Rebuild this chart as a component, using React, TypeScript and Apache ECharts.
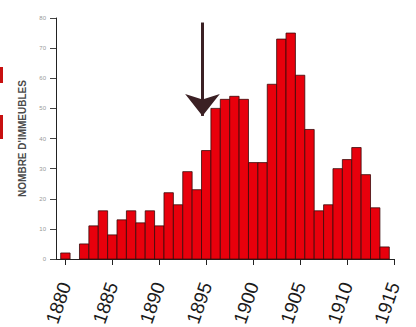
import React, { useEffect, useRef } from "react";
import * as echarts from "echarts";

const YEARS = [1880, 1881, 1882, 1883, 1884, 1885, 1886, 1887, 1888, 1889, 1890, 1891, 1892, 1893, 1894, 1895, 1896, 1897, 1898, 1899, 1900, 1901, 1902, 1903, 1904, 1905, 1906, 1907, 1908, 1909, 1910, 1911, 1912, 1913, 1914];
const COUNTS = [2, 0, 5, 11, 16, 8, 13, 16, 12, 16, 11, 22, 18, 29, 23, 36, 50, 53, 54, 53, 32, 32, 58, 73, 75, 61, 43, 16, 18, 30, 33, 37, 28, 17, 4];
const X_TICKS = [1880, 1885, 1890, 1895, 1900, 1905, 1910, 1915];
const Y_NAME = "NOMBRE D'IMMEUBLES";
const ARROW_YEAR = 1894.6;
const ARROW_FROM = 78.5;
const ARROW_TO = 47.5;

const RED = "#e8000c";
const FONT = "Liberation Sans, Arial, sans-serif";

export default function App() {
  const ref = useRef<HTMLDivElement>(null);
  useEffect(() => {
    if (!ref.current) return;
    const chart = echarts.init(ref.current, null, { renderer: "svg" });
    const data = YEARS.map((y, i) => [y, COUNTS[i]]);
    chart.setOption({
      animation: false,
      backgroundColor: "#ffffff",
      grid: { left: 56, right: 22, top: 18, bottom: 68, containLabel: false, outerBoundsMode: "none" },
      xAxis: {
        type: "value",
        min: 1879,
        max: 1915,
        splitLine: { show: false },
        axisLine: { show: true, lineStyle: { color: "#222", width: 1 } },
        axisTick: { show: true, length: 6, lineStyle: { color: "#222" }, customValues: X_TICKS },
        axisLabel: {
          customValues: X_TICKS,
          rotate: 71,
          margin: 24,
          fontSize: 19,
          color: "#1a1a1a",
          fontFamily: FONT,
          formatter: (v: number) => String(v),
        },
      },
      yAxis: {
        type: "value",
        min: 0,
        max: 80,
        interval: 10,
        name: Y_NAME,
        nameLocation: "middle",
        nameGap: 29,
        nameRotate: 90,
        nameTextStyle: { fontSize: 10, fontWeight: "bold", color: "#4a4a4a", fontFamily: FONT },
        splitLine: { show: false },
        axisLine: { show: true, lineStyle: { color: "#222", width: 1 } },
        axisTick: { show: true, length: 6, lineStyle: { color: "#444" } },
        axisLabel: { fontSize: 6, color: "#999", margin: 10, fontFamily: FONT },
      },
      graphic: [
        { type: "rect", left: 0, top: 67, shape: { width: 3, height: 16 }, style: { fill: "#c81010" } },
        { type: "rect", left: 0, top: 115, shape: { width: 3, height: 24 }, style: { fill: "#c81010" } },
      ],
      series: [
        {
          type: "custom",
          data,
          encode: { x: 0, y: 1 },
          renderItem: (params: any, api: any) => {
            const yr = api.value(0);
            const v = api.value(1);
            if (!v) return null;
            const p0 = api.coord([yr - 0.5, v]);
            const p1 = api.coord([yr + 0.5, 0]);
            return {
              type: "rect",
              shape: { x: p0[0], y: p0[1], width: p1[0] - p0[0], height: p1[1] - p0[1] },
              style: { fill: RED, stroke: "#3a0a0a", lineWidth: 0.8 },
            };
          },
          markLine: {
            silent: true,
            symbol: ["none", "arrow"],
            symbolSize: [26, 22],
            label: { show: false },
            lineStyle: { color: "#3b2024", width: 3, type: "solid" },
            data: [[{ coord: [ARROW_YEAR, ARROW_FROM] }, { coord: [ARROW_YEAR, ARROW_TO] }]],
          },
        },
      ],
    });
    return () => chart.dispose();
  }, []);
  return <div ref={ref} style={{ width: 416, height: 327, position: "absolute", left: 0, top: 0 }} />;
}
